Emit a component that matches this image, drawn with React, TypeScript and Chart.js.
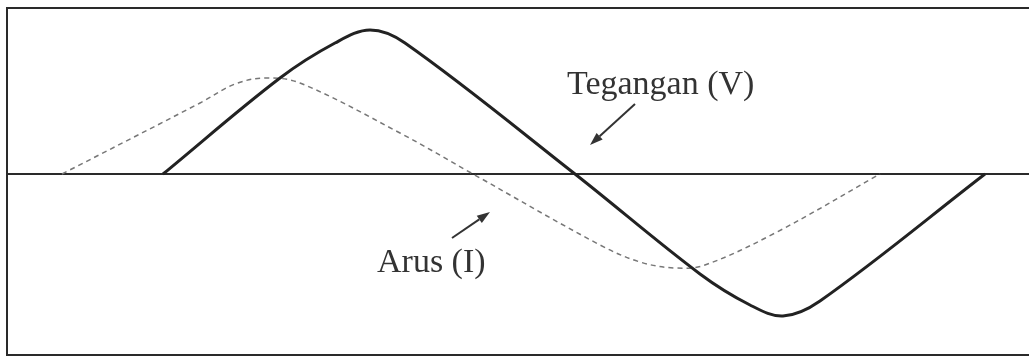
import React, { useEffect, useRef } from "react";
import { Chart, registerables } from "chart.js";

Chart.register(...registerables);

// Horizontal position (time) and level readings, axis line = 0
const voltageX = [163, 280, 335, 370, 405, 575, 700, 750, 783, 820, 985];
const voltageY = [0, 96, 131, 144, 131, 0, -100, -131, -142, -127, 0];

const currentX = [62, 200, 235, 265, 300, 400, 473, 600, 640, 675, 705, 777, 880];
const currentY = [0, 71, 90, 96, 91, 41, 0, -71, -88, -94, -91, -58, 0];

const labels = ["Tegangan (V)", "Arus (I)"];
const labelPos = [
  [567, 80],
  [377, -98],
];
// arrows: [fromX, fromY, toX, toY]
const arrows = [
  [635, 70, 590, 29],
  [452, -64, 490, -38],
];

const xMin = 7;
const xMax = 1029;
const yMin = -181;
const yMax = 166;

export default function App() {
  const ref = useRef<HTMLCanvasElement | null>(null);

  useEffect(() => {
    document.body.style.margin = "0";
    const canvas = ref.current!;
    const decor = {
      id: "decor",
      beforeDatasetsDraw(chart: any) {
        const { ctx, chartArea } = chart;
        const ys = chart.scales.y;
        ctx.save();
        ctx.strokeStyle = "#2a2a2a";
        ctx.lineWidth = 2;
        ctx.beginPath();
        ctx.moveTo(chartArea.right, chartArea.top);
        ctx.lineTo(chartArea.left, chartArea.top);
        ctx.lineTo(chartArea.left, chartArea.bottom);
        ctx.lineTo(chartArea.right, chartArea.bottom);
        ctx.stroke();
        const y0 = ys.getPixelForValue(0);
        ctx.beginPath();
        ctx.moveTo(chartArea.left, y0);
        ctx.lineTo(chartArea.right, y0);
        ctx.stroke();
        ctx.restore();
      },
      afterDatasetsDraw(chart: any) {
        const { ctx } = chart;
        const xs = chart.scales.x;
        const ys = chart.scales.y;
        ctx.save();
        ctx.fillStyle = "#333";
        ctx.font = '34px "Liberation Serif", "DejaVu Serif", serif';
        ctx.textBaseline = "alphabetic";
        labels.forEach((t, i) => {
          ctx.fillText(t, xs.getPixelForValue(labelPos[i][0]), ys.getPixelForValue(labelPos[i][1]));
        });
        ctx.strokeStyle = "#333";
        ctx.lineWidth = 2;
        arrows.forEach((a) => {
          const x1 = xs.getPixelForValue(a[0]);
          const y1 = ys.getPixelForValue(a[1]);
          const x2 = xs.getPixelForValue(a[2]);
          const y2 = ys.getPixelForValue(a[3]);
          const ang = Math.atan2(y2 - y1, x2 - x1);
          const hl = 13;
          const hw = 4.5;
          const bx = x2 - hl * Math.cos(ang);
          const by = y2 - hl * Math.sin(ang);
          ctx.beginPath();
          ctx.moveTo(x1, y1);
          ctx.lineTo(bx, by);
          ctx.stroke();
          ctx.beginPath();
          ctx.moveTo(x2, y2);
          ctx.lineTo(bx + hw * Math.sin(ang), by - hw * Math.cos(ang));
          ctx.lineTo(bx - hw * Math.sin(ang), by + hw * Math.cos(ang));
          ctx.closePath();
          ctx.fill();
        });
        ctx.restore();
      },
    };

    const chart = new Chart(canvas, {
      type: "line",
      data: {
        datasets: [
          {
            label: "Tegangan (V)",
            data: voltageX.map((x, i) => ({ x, y: voltageY[i] })),
            borderColor: "#222",
            borderWidth: 3,
            pointRadius: 0,
            tension: 0.35,
            fill: false,
          },
          {
            label: "Arus (I)",
            data: currentX.map((x, i) => ({ x, y: currentY[i] })),
            borderColor: "#777",
            borderWidth: 1.5,
            borderDash: [5, 4],
            pointRadius: 0,
            tension: 0.35,
            fill: false,
          },
        ],
      },
      options: {
        animation: false,
        responsive: false,
        maintainAspectRatio: false,
        layout: { padding: { left: 7, top: 8, right: 0, bottom: 3 } },
        plugins: { legend: { display: false }, tooltip: { enabled: false } },
        scales: {
          x: { type: "linear", min: xMin, max: xMax, display: false },
          y: { type: "linear", min: yMin, max: yMax, display: false },
        },
      },
      plugins: [decor],
    });
    return () => chart.destroy();
  }, []);

  return (
    <div style={{ width: 1029, height: 358, background: "#fff" }}>
      <canvas ref={ref} width={1029} height={358} style={{ display: "block" }} />
    </div>
  );
}
